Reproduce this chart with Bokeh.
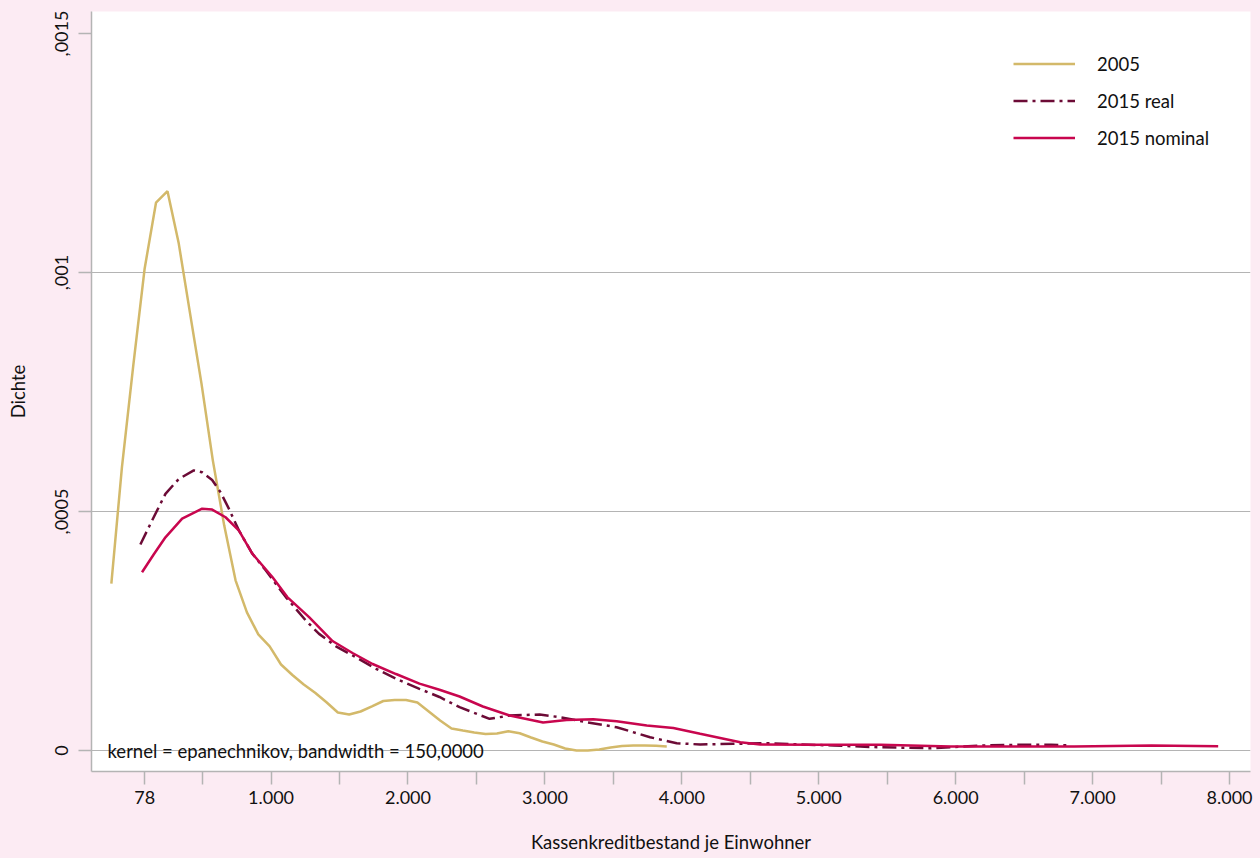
from bokeh.plotting import figure
from bokeh.models import FixedTicker, Label, Legend, LegendItem, Range1d
from bokeh.embed import file_html
from bokeh.resources import INLINE

# ---- data ----
x_2005 = [-166, -89, -6, 77, 160, 244, 326, 409, 492, 575, 658, 741, 824, 907, 990,
          1073, 1156, 1239, 1322, 1405, 1488, 1571, 1654, 1737, 1820, 1903, 1986,
          2069, 2152, 2235, 2318, 2401, 2484, 2567, 2650, 2733, 2816, 2899, 2982,
          3065, 3148, 3231, 3314, 3397, 3480, 3563, 3646, 3729, 3812, 3890]
y_2005 = [0.000349, 0.000592, 0.000805, 0.001008, 0.001146, 0.001170, 0.001061,
          0.000914, 0.000768, 0.000607, 0.000471, 0.000356, 0.000289, 0.000243,
          0.000218, 0.000180, 0.000158, 0.000138, 0.000121, 0.000101, 0.0000795,
          0.0000753, 0.0000816, 0.0000925, 0.0001036, 0.0001057, 0.0001057,
          0.0001004, 0.0000816, 0.0000628, 0.000046, 0.0000418, 0.0000377,
          0.0000345, 0.0000356, 0.0000404, 0.0000362, 0.0000272, 0.0000188,
          0.0000126, 0.0000042, 0.0, 0.0, 0.0000021, 0.0000063, 0.0000094,
          0.0000105, 0.0000105, 0.0000098, 0.0000084]

x_real = [46, 131, 229, 326, 436, 497, 570, 632, 692, 766, 863, 961, 1108, 1254,
          1351, 1474, 1620, 1767, 1913, 2084, 2230, 2377, 2596, 2743, 2962, 3109,
          3304, 3524, 3768, 3963, 4134, 4378, 4622, 4866, 5110, 5428, 5818, 6206,
          6453, 6697, 6843]
y_real = [0.000431, 0.000481, 0.000537, 0.000568, 0.000586, 0.000582, 0.000566,
          0.000540, 0.000506, 0.000460, 0.000412, 0.000377, 0.000321, 0.000272,
          0.000244, 0.000218, 0.000195, 0.000171, 0.000150, 0.000129, 0.000112,
          0.0000906, 0.0000663, 0.0000732, 0.0000753, 0.0000697, 0.0000592,
          0.0000487, 0.0000278, 0.0000153, 0.0000126, 0.000014, 0.0000153,
          0.0000126, 0.0000105, 0.0000069, 0.0000048, 0.0000105, 0.0000119,
          0.0000119, 0.0000105]

x_nominal = [58, 143, 229, 351, 497, 570, 668, 766, 863, 1010, 1119, 1278, 1449,
             1595, 1742, 1913, 2084, 2230, 2377, 2547, 2743, 2987, 3158, 3353, 3524,
             3744, 3938, 4134, 4280, 4427, 4573, 4961, 5452, 5964, 6404, 6865, 7429,
             7917]
y_nominal = [0.000373, 0.000410, 0.000446, 0.000485, 0.000506, 0.000504, 0.000488,
             0.000460, 0.000412, 0.000363, 0.000321, 0.000279, 0.000229, 0.000204,
             0.000181, 0.000160, 0.000140, 0.000127, 0.000113, 0.0000921, 0.0000732,
             0.0000586, 0.0000638, 0.0000655, 0.0000613, 0.0000523, 0.0000471,
             0.0000349, 0.0000262, 0.0000174, 0.0000126, 0.0000119, 0.0000119,
             0.0000084, 0.0000084, 0.0000084, 0.0000105, 0.000009]

series_names = ["2005", "2015 real", "2015 nominal"]

x_ticks = [78, 500, 1000, 1500, 2000, 2500, 3000, 3500, 4000, 4500, 5000, 5500,
           6000, 6500, 7000, 7500, 8000]
x_tick_labels = ["78", "", "1.000", "", "2.000", "", "3.000", "", "4.000", "",
                 "5.000", "", "6.000", "", "7.000", "", "8.000"]
y_ticks = [0, 0.0005, 0.001, 0.0015]
y_tick_labels = ["0", ",0005", ",001", ",0015"]
y_grid = [0, 0.0005, 0.001]

note_text = "kernel = epanechnikov, bandwidth = 150,0000"
x_title = "Kassenkreditbestand je Einwohner"
y_title = "Dichte"

# ---- styling ----
FONT = "Lato"
PINK = "#FCEBF3"
GRAY = "#B4B4B4"
C_2005 = "#D3B96A"
C_REAL = "#6C0B36"
C_NOM = "#C8064E"
TXT = "#111111"

p = figure(width=1260, height=858, output_backend="svg", toolbar_location=None,
           x_range=Range1d(-311, 8153), y_range=Range1d(-0.0000439, 0.001546),
           min_border_left=91, min_border_right=10, min_border_top=11,
           min_border_bottom=87)
p.border_fill_color = PINK
p.background_fill_color = "white"
p.outline_line_color = None

r1 = p.line(x_2005, y_2005, line_color=C_2005, line_width=2.5)
r2 = p.line(x_real, y_real, line_color=C_REAL, line_width=2.5, line_dash="14 5 3 5")
r3 = p.line(x_nominal, y_nominal, line_color=C_NOM, line_width=2.5)

# axes
xa = p.xaxis[0]
xa.ticker = FixedTicker(ticks=x_ticks)
xa.major_label_overrides = {t: l for t, l in zip(x_ticks, x_tick_labels)}
ya = p.yaxis[0]
ya.ticker = FixedTicker(ticks=y_ticks)
ya.major_label_overrides = {t: l for t, l in zip(y_ticks, y_tick_labels)}
ya.major_label_orientation = "vertical"

for ax in (xa, ya):
    ax.axis_line_color = GRAY
    ax.axis_line_width = 1.5
    ax.major_tick_line_color = GRAY
    ax.major_tick_line_width = 1.5
    ax.major_tick_out = 13
    ax.major_tick_in = 0
    ax.minor_tick_line_color = None
    ax.major_label_text_font = FONT
    ax.major_label_text_font_size = "18px"
    ax.major_label_text_color = TXT
    ax.axis_label_text_font = FONT
    ax.axis_label_text_font_size = "18.5px"
    ax.axis_label_text_font_style = "normal"
    ax.axis_label_text_color = TXT

xa.axis_label = x_title
ya.axis_label = y_title
xa.major_label_standoff = 6
xa.axis_label_standoff = 24
ya.major_label_standoff = 10
ya.axis_label_standoff = 24

p.xgrid.visible = False
p.ygrid.ticker = FixedTicker(ticks=y_grid)
p.ygrid.grid_line_color = GRAY
p.ygrid.grid_line_width = 1.2

# note
p.add_layout(Label(x=16, x_units="screen", y=0, y_units="data", text=note_text,
                   text_font=FONT, text_font_size="18.5px", text_color=TXT,
                   text_baseline="alphabetic"))

# legend
legend = Legend(items=[LegendItem(label=series_names[0], renderers=[r1]),
                       LegendItem(label=series_names[1], renderers=[r2]),
                       LegendItem(label=series_names[2], renderers=[r3])],
                location=(922, 622), padding=0, margin=0,
                glyph_width=62, glyph_height=23, label_height=23,
                label_standoff=22, spacing=14,
                label_text_font=FONT, label_text_font_size="18.5px",
                label_text_color=TXT,
                border_line_color=None, background_fill_alpha=0)
p.add_layout(legend)

html = file_html(p, INLINE)
style = ("<style>html, body { margin: 0 !important; padding: 0 !important; "
         "background: %s; overflow: hidden; }</style></head>" % PINK)
html = html.replace("</head>", style, 1)
open("out.html", "w").write(html)
